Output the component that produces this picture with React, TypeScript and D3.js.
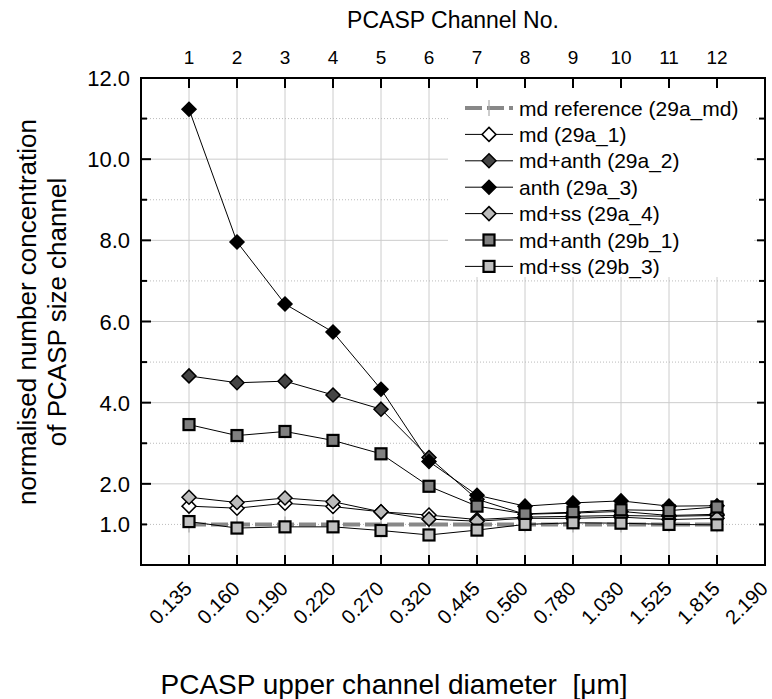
import React from "react";
import * as d3 from "d3";

const channels = [1, 2, 3, 4, 5, 6, 7, 8, 9, 10, 11, 12];
const diameterLabels = ["0.135", "0.160", "0.190", "0.220", "0.270", "0.320", "0.445", "0.560", "0.780", "1.030", "1.525", "1.815", "2.190"];
const yLabelTicks = [1, 2, 4, 6, 8, 10, 12];
const yMajorTicks = [0, 2, 4, 6, 8, 10, 12];
const yMinorTicks = [1, 3, 5, 7, 9, 11];

const mdReference = [1, 1, 1, 1, 1, 1, 1, 1, 1, 1, 1, 1];
const md29a1 = [1.45, 1.4, 1.52, 1.44, 1.31, 1.23, 1.12, 1.18, 1.2, 1.22, 1.2, 1.22];
const mdAnth29a2 = [4.66, 4.49, 4.53, 4.19, 3.84, 2.65, 1.62, 1.25, 1.28, 1.32, 1.22, 1.25];
const anth29a3 = [11.23, 7.96, 6.43, 5.74, 4.33, 2.55, 1.72, 1.45, 1.53, 1.58, 1.45, 1.46];
const mdSs29a4 = [1.67, 1.54, 1.65, 1.56, 1.31, 1.13, 1.08, 1.15, 1.15, 1.18, 1.12, 1.15];
const mdAnth29b1 = [3.46, 3.19, 3.29, 3.07, 2.74, 1.94, 1.45, 1.26, 1.3, 1.36, 1.34, 1.43];
const mdSs29b3 = [1.07, 0.91, 0.94, 0.94, 0.85, 0.74, 0.86, 1.0, 1.04, 1.03, 1.0, 0.99];

type Series = { name: string; values: number[]; marker: "plus" | "diamond" | "square"; fill: string };

const seriesList: Series[] = [
  { name: "md reference (29a_md)", values: mdReference, marker: "plus", fill: "#999" },
  { name: "md (29a_1)", values: md29a1, marker: "diamond", fill: "#ffffff" },
  { name: "md+anth (29a_2)", values: mdAnth29a2, marker: "diamond", fill: "#444444" },
  { name: "anth (29a_3)", values: anth29a3, marker: "diamond", fill: "#000000" },
  { name: "md+ss (29a_4)", values: mdSs29a4, marker: "diamond", fill: "#bbbbbb" },
  { name: "md+anth (29b_1)", values: mdAnth29b1, marker: "square", fill: "#808080" },
  { name: "md+ss (29b_3)", values: mdSs29b3, marker: "square", fill: "#c0c0c0" },
];

const W = 772;
const H = 699;
const L = 141;
const R = 765;
const T = 78;
const B = 565;
const FONT = "'Liberation Sans', Arial, Helvetica, sans-serif";

function Marker({ kind, cx, cy, fill }: { kind: string; cx: number; cy: number; fill: string }) {
  if (kind === "diamond") {
    const r = 7;
    return (
      <path
        d={`M${cx},${cy - r}L${cx + r},${cy}L${cx},${cy + r}L${cx - r},${cy}Z`}
        fill={fill}
        stroke="#000"
        strokeWidth={1.5}
      />
    );
  }
  if (kind === "square") {
    const s = 5.5;
    return <rect x={cx - s} y={cy - s} width={2 * s} height={2 * s} fill={fill} stroke="#000" strokeWidth={2.2} />;
  }
  return (
    <g stroke="#aaa" strokeWidth={1.2}>
      <line x1={cx} x2={cx} y1={cy - 8} y2={cy + 8} />
    </g>
  );
}

export default function App() {
  const x = d3.scaleLinear().domain([0, 13]).range([L, R]);
  const y = d3.scaleLinear().domain([0, 12]).range([B, T]);
  const line = d3
    .line<number>()
    .x((_, i) => x(channels[i]))
    .y((d) => y(d));

  const legendRowY = (i: number) => 108 + i * 26.4;

  return (
    <svg
      width={W}
      height={H}
      style={{ position: "absolute", left: 0, top: 0, background: "#fff" }}
      fontFamily={FONT}
    >
      <rect x={0} y={0} width={W} height={H} fill="#fff" />
      {/* grid */}
      <g>
        {channels.map((c) => (
          <line key={"vg" + c} x1={x(c)} x2={x(c)} y1={T} y2={B} stroke="#cccccc" strokeWidth={1} />
        ))}
        {yMajorTicks.filter((v) => v > 0 && v < 12).map((v) => (
          <line key={"hg" + v} x1={L} x2={R} y1={y(v)} y2={y(v)} stroke="#cccccc" strokeWidth={1} />
        ))}
        {yMinorTicks.map((v) => (
          <line key={"hm" + v} x1={L} x2={R} y1={y(v)} y2={y(v)} stroke="#bbbbbb" strokeWidth={1} strokeDasharray="1,2" />
        ))}
      </g>
      {/* series */}
      {seriesList.map((s, si) => (
        <g key={"s" + si}>
          {s.marker === "plus" ? (
            <path d={line(s.values) || ""} fill="none" stroke="#888" strokeWidth={4} strokeDasharray="17,5" />
          ) : (
            <path d={line(s.values) || ""} fill="none" stroke="#000" strokeWidth={1} />
          )}
          {s.values.map((v, i) => (
            <Marker key={i} kind={s.marker} cx={x(channels[i])} cy={y(v)} fill={s.fill} />
          ))}
        </g>
      ))}
      {/* legend */}
      <rect x={448} y={80} width={306} height={197} fill="#fff" />
      {seriesList.map((s, i) => {
        const ly = legendRowY(i);
        return (
          <g key={"lg" + i}>
            {s.marker === "plus" ? (
              <line x1={465} x2={513} y1={ly} y2={ly} stroke="#888" strokeWidth={4} strokeDasharray="17,5" />
            ) : (
              <line x1={465} x2={513} y1={ly} y2={ly} stroke="#000" strokeWidth={1} />
            )}
            <Marker kind={s.marker} cx={489} cy={ly} fill={s.fill} />
            <text x={519} y={ly + 7.5} fontSize={21} fill="#000">
              {s.name}
            </text>
          </g>
        );
      })}
      {/* axes frame */}
      <rect x={L} y={T} width={R - L} height={B - T} fill="none" stroke="#000" strokeWidth={2} />
      {/* bottom ticks */}
      {channels.map((c) => (
        <line key={"bt" + c} x1={x(c)} x2={x(c)} y1={B} y2={B - 10} stroke="#000" strokeWidth={2} />
      ))}
      {/* top ticks */}
      {channels.map((c) => (
        <line key={"tt" + c} x1={x(c)} x2={x(c)} y1={T} y2={T + 10} stroke="#000" strokeWidth={2} />
      ))}
      {/* left/right ticks */}
      {yMajorTicks.map((v) => (
        <g key={"ymt" + v}>
          <line x1={L} x2={L + 10} y1={y(v)} y2={y(v)} stroke="#000" strokeWidth={2} />
          <line x1={R} x2={R - 8} y1={y(v)} y2={y(v)} stroke="#000" strokeWidth={2} />
        </g>
      ))}
      {yMinorTicks.map((v) => (
        <g key={"ymn" + v}>
          <line x1={L} x2={L + 6} y1={y(v)} y2={y(v)} stroke="#000" strokeWidth={2} />
          <line x1={R} x2={R - 6} y1={y(v)} y2={y(v)} stroke="#000" strokeWidth={2} />
        </g>
      ))}
      {/* y tick labels */}
      {yLabelTicks.map((v) => (
        <text key={"yl" + v} x={L - 11} y={y(v) + 8} textAnchor="end" fontSize={22} fill="#000">
          {d3.format(".1f")(v)}
        </text>
      ))}
      {/* top tick labels */}
      {channels.map((c) => (
        <text key={"tl" + c} x={x(c)} y={T - 14} textAnchor="middle" fontSize={19} fill="#000">
          {c}
        </text>
      ))}
      <text x={(L + R) / 2} y={28} textAnchor="middle" fontSize={23} fill="#000">
        PCASP Channel No.
      </text>
      {/* bottom tick labels */}
      {diameterLabels.map((lab, i) => (
        <text
          key={"bl" + i}
          transform={`translate(${x(i + 1) + 4},${B + 25}) rotate(-45)`}
          textAnchor="end"
          fontSize={20}
          fill="#000"
        >
          {lab}
        </text>
      ))}
      <text x={394} y={694} textAnchor="middle" fontSize={28} fill="#000" style={{ whiteSpace: "pre" }}>
        {"PCASP upper channel diameter  [μm]"}
      </text>
      {/* y title */}
      <text transform={`translate(36,312) rotate(-90)`} textAnchor="middle" fontSize={26} fill="#000">
        normalised number concentration
      </text>
      <text transform={`translate(66,312) rotate(-90)`} textAnchor="middle" fontSize={26} fill="#000">
        of PCASP size channel
      </text>
    </svg>
  );
}
